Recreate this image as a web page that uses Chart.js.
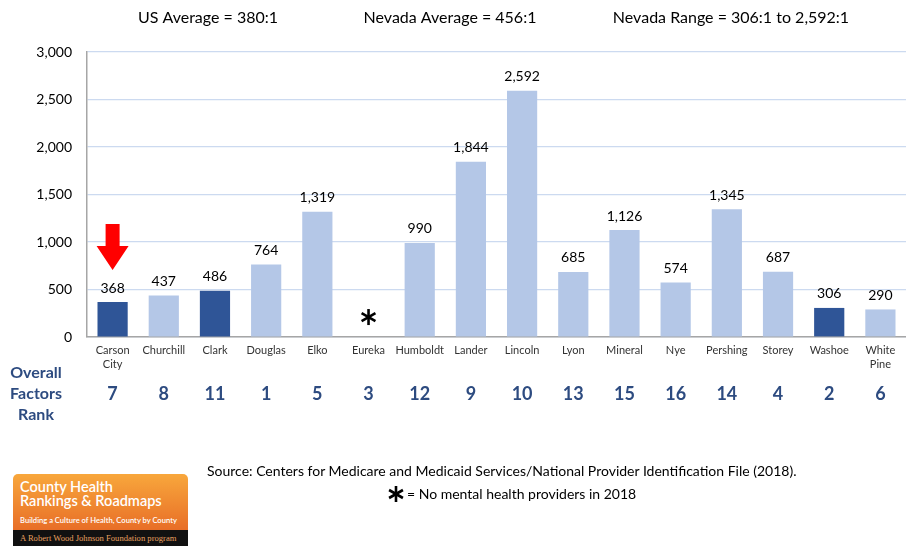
<!DOCTYPE html>
<html><head><meta charset="utf-8">
<script src="https://cdn.jsdelivr.net/npm/chart.js@4"></script>
<style>
html,body{margin:0;padding:0;background:#fff;}
#wrap{position:relative;width:906px;height:546px;font-family:Lato,"Open Sans",sans-serif;}
canvas{position:absolute;left:0;top:0;}
#logo{position:absolute;left:13px;top:474px;width:175px;height:72px;}
#logo .top{height:56px;border-radius:5px 5px 0 0;background:linear-gradient(#F8A73C,#E86E27);color:#fff;padding-left:7px;box-sizing:border-box;}
#logo .t1{font-size:14.5px;line-height:14px;padding-top:6px;font-weight:600;}
#logo .t2{font-size:7.6px;padding-top:7px;font-weight:600;white-space:nowrap;}
#logo .bot{height:16px;background:#111;color:#E8A060;font-family:"Liberation Serif",serif;font-size:8.6px;line-height:16px;padding-left:7px;white-space:nowrap;}
#src{position:absolute;left:207px;top:462px;font-size:14px;color:#000;}
#note{position:absolute;left:407px;top:485px;font-size:14px;color:#000;}
</style></head>
<body><div id="wrap">
<canvas id="c" width="906" height="546"></canvas>
<div id="logo"><div class="top"><div class="t1">County Health<br>Rankings &amp; Roadmaps</div><div class="t2">Building a Culture of Health, County by County</div></div><div class="bot">A Robert Wood Johnson Foundation program</div></div>
<div id="src">Source: Centers for Medicare and Medicaid Services/National Provider Identification File (2018).</div>
<div id="note">= No mental health providers in 2018</div>
</div>
<script>
const counties = [["Carson","City"],"Churchill","Clark","Douglas","Elko","Eureka","Humboldt","Lander","Lincoln","Lyon","Mineral","Nye","Pershing","Storey","Washoe",["White","Pine"]];
const ratios = [368,437,486,764,1319,null,990,1844,2592,685,1126,574,1345,687,306,290];
const ranks = [7,8,11,1,5,3,12,9,10,13,15,16,14,4,2,6];
const highlighted = ["Carson City","Clark","Washoe"];
const headerTexts = ["US Average = 380:1","Nevada Average = 456:1","Nevada Range = 306:1 to 2,592:1"];
const yTicks = [0,500,1000,1500,2000,2500,3000];

const DARK = "#2F5597", LIGHT = "#B4C7E7", RANKC = "#2D4B80";
const nameOf = l => Array.isArray(l) ? l.join(" ") : l;

function asterisk(ctx, cx, cy, r){
  ctx.save();
  ctx.strokeStyle = "#000"; ctx.lineWidth = 2.6; ctx.lineCap = "butt";
  for (let k=0;k<3;k++){
    const a = Math.PI/2 + k*Math.PI/3;
    ctx.beginPath();
    ctx.moveTo(cx - r*Math.cos(a), cy - r*Math.sin(a));
    ctx.lineTo(cx + r*Math.cos(a), cy + r*Math.sin(a));
    ctx.stroke();
  }
  ctx.restore();
}

const overlay = {
  id:"overlay",
  afterDatasetsDraw(chart){
    const ctx = chart.ctx, x = chart.scales.x, y = chart.scales.y;
    ctx.save();
    // value labels
    ctx.font = "14px Lato"; ctx.fillStyle = "#000"; ctx.textAlign = "center"; ctx.textBaseline = "bottom";
    ratios.forEach((v,i)=>{
      if(v==null) return;
      ctx.fillText(v.toLocaleString("en-US"), x.getPixelForValue(i), y.getPixelForValue(v)-7);
    });
    // asterisk for missing
    ratios.forEach((v,i)=>{
      if(v!=null) return;
      asterisk(ctx, x.getPixelForValue(i), y.getPixelForValue(210), 8);
    });
    // note asterisk
    asterisk(ctx, 396, 494, 8);
    // red arrow over first county
    const ax = x.getPixelForValue(0), tip = y.getPixelForValue(ratios[0]) - 32;
    ctx.fillStyle = "#FF0000";
    ctx.beginPath();
    ctx.moveTo(ax-7, tip-46); ctx.lineTo(ax+7, tip-46); ctx.lineTo(ax+7, tip-24);
    ctx.lineTo(ax+16, tip-24); ctx.lineTo(ax, tip); ctx.lineTo(ax-16, tip-24); ctx.lineTo(ax-7, tip-24);
    ctx.closePath(); ctx.fill();
    // header
    ctx.fillStyle = "#000"; ctx.font = "16px Lato"; ctx.textBaseline = "middle";
    const hx = [208,450,731];
    headerTexts.forEach((t,i)=>ctx.fillText(t, hx[i], 18));
    // rank row
    ctx.fillStyle = RANKC; ctx.font = "bold 16px Lato";
    ["Overall","Factors","Rank"].forEach((t,i)=>ctx.fillText(t, 36, 373+i*21));
    ctx.font = "bold 18px Lato";
    ranks.forEach((r,i)=>ctx.fillText(String(r), x.getPixelForValue(i), 394));
    ctx.restore();
  }
};

new Chart(document.getElementById("c"), {
  type:"bar",
  data:{ labels: counties, datasets:[{ data: ratios,
    backgroundColor: counties.map(l => highlighted.includes(nameOf(l)) ? DARK : LIGHT),
    barPercentage:0.59, categoryPercentage:1 }]},
  options:{
    responsive:false, animation:false, devicePixelRatio:1,
    layout:{padding:{top:52,right:0,bottom:169,left:0}},
    plugins:{legend:{display:false}, tooltip:{enabled:false}},
    scales:{
      x:{ grid:{display:false}, border:{color:"#A6A6A6", width:1.5},
          ticks:{color:"#333", font:{family:"Lato", size:11, lineHeight:1.25}, maxRotation:0, autoSkip:false, padding:-1},
          afterFit(s){ s.height = 40; } },
      y:{ min:0, max:3000, afterBuildTicks(s){ s.ticks = yTicks.map(v=>({value:v})); },
          grid:{color:"#CCDAF0", lineWidth:1.2, drawTicks:false},
          border:{color:"#A6A6A6", width:1.5},
          ticks:{color:"#000", font:{family:"Lato", size:14}, padding:15, callback:v=>v.toLocaleString("en-US")},
          afterFit(s){ s.width = 87; } }
    }
  },
  plugins:[overlay]
});
</script>
</body></html>
